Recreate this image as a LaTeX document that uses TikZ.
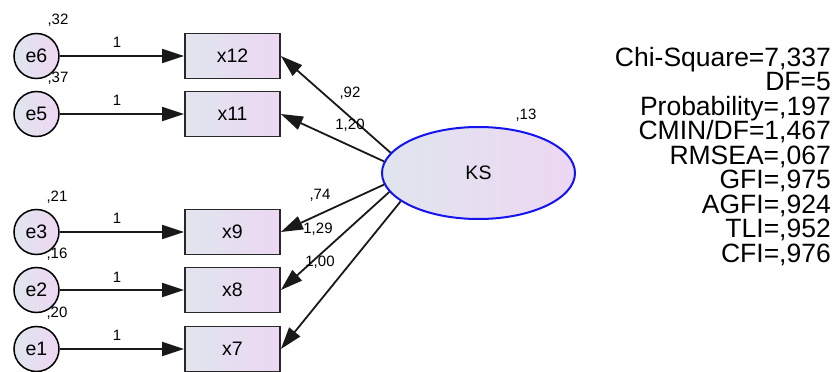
\documentclass[tikz,border=0pt]{standalone}
\usepackage{fontspec}
\setmainfont{Liberation Sans}
\usetikzlibrary{arrows.meta,shapes.geometric}

\definecolor{fillL}{RGB}{224,229,238}
\definecolor{fillR}{RGB}{237,215,243}
\definecolor{ksblue}{RGB}{20,20,240}
\definecolor{edge}{RGB}{40,40,40}

\tikzset{
  obs/.style={draw=edge, line width=1.8pt, minimum width=95pt, minimum height=45pt,
    left color=fillL, right color=fillR, inner sep=0pt,
    font=\fontsize{19.5}{20}\selectfont},
  err/.style={circle, draw=black, line width=1.5pt, minimum size=45pt, inner sep=0pt,
    left color=fillL, right color=fillR, font=\fontsize{19.5}{20}\selectfont},
  lat/.style={ellipse, draw=ksblue, line width=2pt, minimum width=193pt, minimum height=92pt,
    left color=fillL, right color=fillR, inner sep=0pt,
    font=\fontsize{19.5}{20}\selectfont},
  load/.style={-{Triangle[length=22pt,width=14pt]}, line width=1.8pt, draw=black!90},
  est/.style={font=\fontsize{15}{15}\selectfont, inner sep=0pt},
  fitline/.style={font=\fontsize{26.5}{26}\selectfont, anchor=base east, inner sep=0pt}
}

\begin{document}
\begin{tikzpicture}[x=1pt,y=-1pt]
\useasboundingbox (0,0) rectangle (839,372);

% observed indicators
\node[obs] (x12) at (232.5,56) {x12};
\node[obs] (x11) at (232.5,114) {x11};
\node[obs] (x9)  at (232.5,232) {x9};
\node[obs] (x8)  at (232.5,290) {x8};
\node[obs] (x7)  at (232.5,349) {x7};

% error terms
\node[err] (e6) at (36.5,56) {e6};
\node[err] (e5) at (36.5,114) {e5};
\node[err] (e3) at (36.5,232) {e3};
\node[err] (e2) at (36.5,290) {e2};
\node[err] (e1) at (36.5,349) {e1};

% latent factor
\node[lat] (KS) at (478.5,173) {KS};

% error paths (fixed to 1)
\foreach \e/\x in {e6/x12,e5/x11,e3/x9,e2/x8,e1/x7}{
  \draw[load] (\e.east) -- (\x.west);
}
\node[est] (one6) at (117,42)  {1};
\node[est] (one5) at (117,100) {1};
\node[est] (one3) at (117,218) {1};
\node[est] (one2) at (117,277) {1};
\node[est] (one1) at (117,335) {1};

% error variances
\node[est] (v6) at (58,20)  {,32};
\node[est] (v5) at (58,78)  {,37};
\node[est] (v3) at (57,197) {,21};
\node[est] (v2) at (57,254) {,16};
\node[est] (v1) at (57,313) {,20};
\node[est] (vKS) at (526,115) {,13};

% factor loadings
\draw[load] (KS.167) -- (x12.east);
\draw[load] (KS.173.5) -- (x11.east);
\draw[load] (KS.187) -- (x9.east);
\draw[load] (KS.192) -- (x8.east);
\draw[load] (KS.200) -- (x7.east);

\node[est] (l12) at (350,93)  {,92};
\node[est] (l11) at (350,125) {1,20};
\node[est] (l9)  at (320,195) {,74};
\node[est] (l8)  at (318,229) {1,29};
\node[est] (l7)  at (320,262) {1,00};

% fit statistics
\foreach \t [count=\i] in {Chi-Square=7{,}337, DF=5, Probability={,}197, CMIN/DF=1{,}467,
    RMSEA={,}067, GFI={,}975, AGFI={,}924, TLI={,}952, CFI={,}976}{
  \node[fitline] (stat\i) at (831,{66+24.5*(\i-1)}) {\t};
}
\end{tikzpicture}
\end{document}
